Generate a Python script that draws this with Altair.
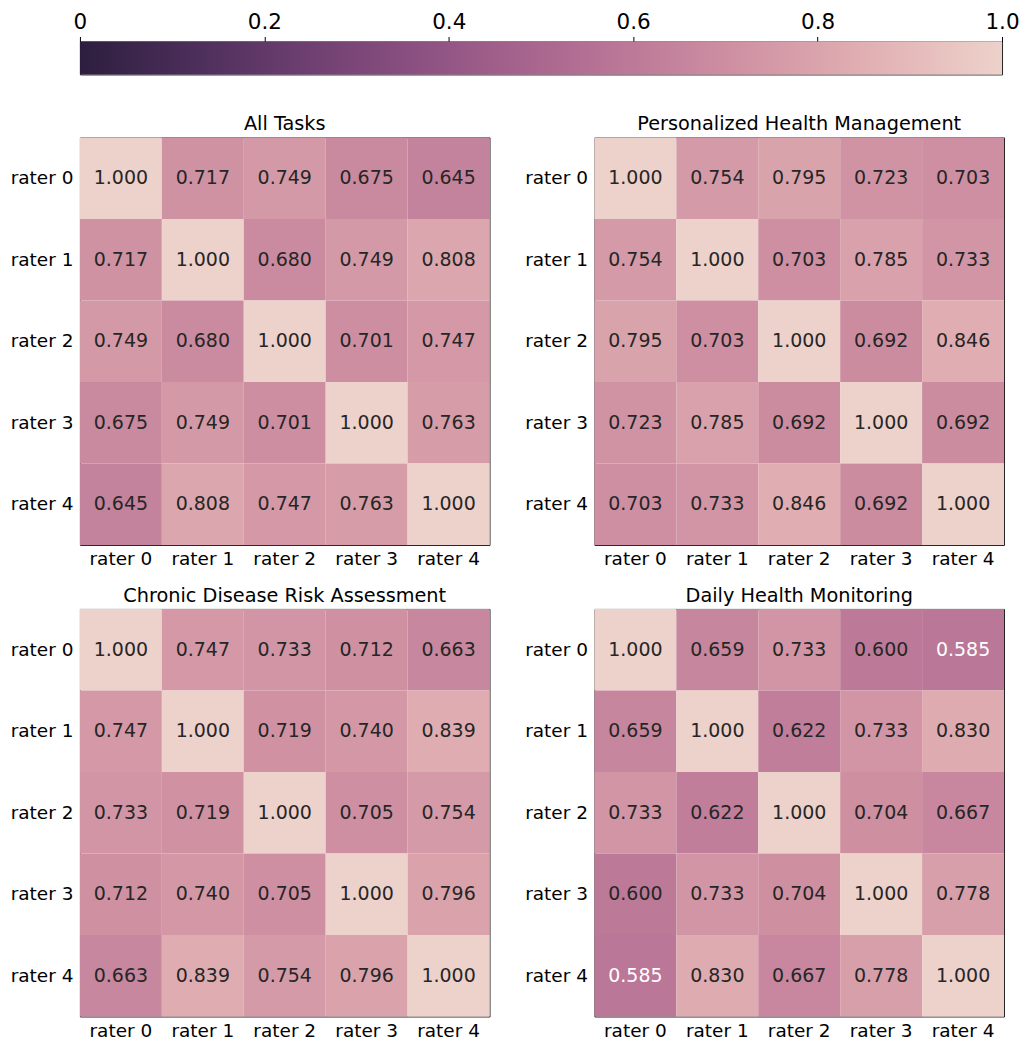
import altair as alt
import pandas as pd
import numpy as np

raters = ["rater 0", "rater 1", "rater 2", "rater 3", "rater 4"]
titles = ["All Tasks", "Personalized Health Management",
          "Chronic Disease Risk Assessment", "Daily Health Monitoring"]

all_tasks = [
    [1.000, 0.717, 0.749, 0.675, 0.645],
    [0.717, 1.000, 0.680, 0.749, 0.808],
    [0.749, 0.680, 1.000, 0.701, 0.747],
    [0.675, 0.749, 0.701, 1.000, 0.763],
    [0.645, 0.808, 0.747, 0.763, 1.000],
]
personalized = [
    [1.000, 0.754, 0.795, 0.723, 0.703],
    [0.754, 1.000, 0.703, 0.785, 0.733],
    [0.795, 0.703, 1.000, 0.692, 0.846],
    [0.723, 0.785, 0.692, 1.000, 0.692],
    [0.703, 0.733, 0.846, 0.692, 1.000],
]
chronic = [
    [1.000, 0.747, 0.733, 0.712, 0.663],
    [0.747, 1.000, 0.719, 0.740, 0.839],
    [0.733, 0.719, 1.000, 0.705, 0.754],
    [0.712, 0.740, 0.705, 1.000, 0.796],
    [0.663, 0.839, 0.754, 0.796, 1.000],
]
daily = [
    [1.000, 0.659, 0.733, 0.600, 0.585],
    [0.659, 1.000, 0.622, 0.733, 0.830],
    [0.733, 0.622, 1.000, 0.704, 0.667],
    [0.600, 0.733, 0.704, 1.000, 0.778],
    [0.585, 0.830, 0.667, 0.778, 1.000],
]
matrices = [all_tasks, personalized, chronic, daily]
cbar_ticks = [0.0, 0.2, 0.4, 0.6, 0.8, 1.0]

FONT = "DejaVu Sans"


def cubehelix_rgb(v):
    # seaborn cubehelix_palette(reverse=True): start=0, rot=.4, hue=.8, light=.85, dark=.15
    light, dark = 0.85, 0.15
    x = dark + v * (light - dark)
    a = 0.8 * x * (1 - x) / 2
    phi = 2 * np.pi * (0.4 * x)
    r = x + a * (-0.14861 * np.cos(phi) + 1.78277 * np.sin(phi))
    g = x + a * (-0.29227 * np.cos(phi) - 0.90649 * np.sin(phi))
    b = x + a * (1.97294 * np.cos(phi))
    return [min(max(c, 0.0), 1.0) for c in (r, g, b)]


def to_hex(rgb):
    return "#%02x%02x%02x" % tuple(int(round(c * 255)) for c in rgb)


def text_color(v):
    return "#262626" if v >= 0.59 else "#ffffff"


stop_pos = [i / 20 for i in range(21)]
stop_colors = [to_hex(cubehelix_rgb(p)) for p in stop_pos]

color_scale = alt.Scale(domain=[0, 1], range=stop_colors, interpolate="rgb")

PANEL_W = 410
PANEL_H = 408


def panel(mat, title):
    rows = []
    for i, r in enumerate(raters):
        for j, c in enumerate(raters):
            v = mat[i][j]
            rows.append({"row": r, "col": c, "value": v,
                         "label": f"{v:.3f}", "tc": text_color(v)})
    df = pd.DataFrame(rows)
    base = alt.Chart(df).encode(
        x=alt.X("col:N", sort=raters,
                scale=alt.Scale(paddingInner=0, paddingOuter=0),
                axis=alt.Axis(title=None, labelAngle=0, ticks=False, domain=False,
                              labelPadding=5, labelFontSize=18.5, labelFont=FONT,
                              labelColor="black")),
        y=alt.Y("row:N", sort=raters,
                scale=alt.Scale(paddingInner=0, paddingOuter=0),
                axis=alt.Axis(title=None, ticks=False, domain=False,
                              labelPadding=7, labelFontSize=18.5, labelFont=FONT,
                              labelColor="black")),
    )
    rect = base.mark_rect().encode(
        color=alt.Color("value:Q", scale=color_scale, legend=None)
    )
    text = base.mark_text(fontSize=19, font=FONT).encode(
        text="label:N",
        color=alt.Color("tc:N", scale=None, legend=None),
    )
    return alt.layer(rect, text).resolve_scale(color="independent").properties(
        width=PANEL_W, height=PANEL_H,
        title=alt.TitleParams(title, fontSize=19.3, font=FONT, fontWeight="normal",
                              color="black", offset=3),
    )


grad = alt.Gradient(
    gradient="linear",
    stops=[alt.GradientStop(offset=p, color=c) for p, c in zip(stop_pos, stop_colors)],
    x1=0, x2=1, y1=0, y2=0,
)
cb_df = pd.DataFrame({"lo": [cbar_ticks[0]], "hi": [cbar_ticks[-1]]})
colorbar = alt.Chart(cb_df).mark_rect(fill=grad).encode(
    x=alt.X("lo:Q", scale=alt.Scale(domain=[0, 1], nice=False, zero=False),
            axis=alt.Axis(orient="top", values=cbar_ticks, title=None, grid=False,
                          domain=False, tickSize=5, tickColor="black", tickWidth=1,
                          labelFlush=False, labelOverlap=False,
                          labelExpr="datum.value == 0 ? '0' : format(datum.value, '.1f')",
                          labelFontSize=21.5, labelFont=FONT, labelColor="black",
                          labelPadding=3)),
    x2="hi:Q",
).properties(width=923, height=33)

panels = [panel(m, t) for m, t in zip(matrices, titles)]
grid = alt.concat(*panels, columns=2, bounds="flush",
                  spacing=alt.RowColnumber(row=64, column=105))

chart = alt.vconcat(colorbar, grid, spacing=63, bounds="flush").configure_view(
    stroke="#222222", strokeWidth=1
).properties(background="white",
             padding={"left": 1, "top": 2, "right": 0, "bottom": 0})

chart.save("out.html", embed_options={"renderer": "svg", "actions": False})
